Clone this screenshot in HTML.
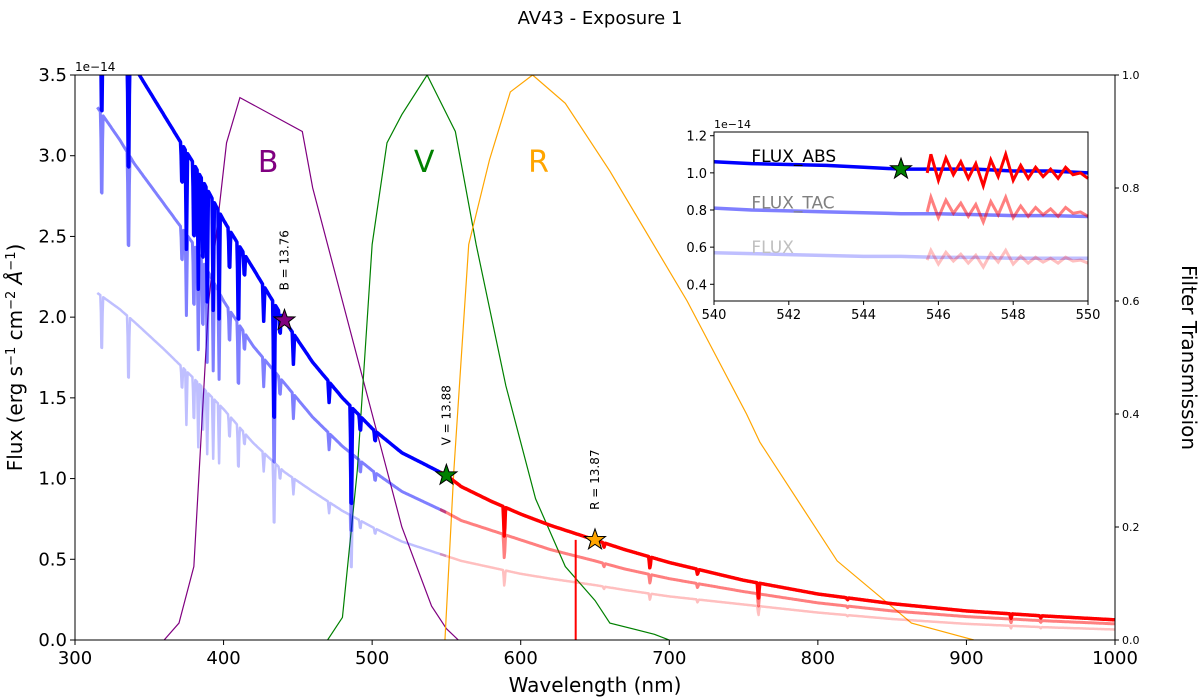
<!DOCTYPE html>
<html><head><meta charset="utf-8"><style>
body{margin:0;background:#fff;}
svg{display:block;font-family:"DejaVu Sans","Liberation Sans",sans-serif;}
</style></head><body>
<svg id="c" width="1200" height="698" xmlns="http://www.w3.org/2000/svg"></svg>
<script>
// ---- data ----
const contWl = [315,330,340,360,380,400,420,441,460,480,500,520,550,560,580,600,620,650,670,700,750,800,850,900,950,1000];
const fluxAbs = [3.9,3.7,3.55,3.25,2.95,2.6,2.3,1.98,1.72,1.5,1.31,1.16,1.02,0.95,0.86,0.78,0.71,0.62,0.56,0.48,0.37,0.285,0.225,0.18,0.15,0.125];
const fluxTac = [3.3,3.1,2.95,2.7,2.45,2.1,1.82,1.59,1.38,1.2,1.05,0.92,0.79,0.74,0.68,0.62,0.56,0.49,0.44,0.38,0.3,0.23,0.18,0.145,0.12,0.1];
const fluxRaw = [2.15,2.05,1.97,1.8,1.62,1.43,1.22,1.04,0.92,0.8,0.7,0.61,0.52,0.49,0.45,0.41,0.38,0.34,0.31,0.27,0.22,0.17,0.13,0.1,0.08,0.065];
const lineWl = [318,336,372,375,380,383,386,389,393,397,404,410,414,427,434,438,447,471,486,492,502,589,656,687,719,760,820,930,950];
const lineDepth = [0.2,0.25,0.1,0.2,0.2,0.25,0.22,0.25,0.25,0.25,0.12,0.25,0.07,0.1,0.45,0.08,0.1,0.08,0.55,0.08,0.06,0.25,0.05,0.15,0.08,0.3,0.05,0.2,0.1];
const bWl=[360,370,380,390,402,411,453,460,480,500,520,540,550,558];
const bT=[0,0.03,0.13,0.6,0.88,0.96,0.9,0.8,0.6,0.4,0.2,0.06,0.02,0];
const vWl=[470,480,490,500,510,520,537,556,570,590,610,630,650,660,690,700];
const vT=[0,0.04,0.3,0.7,0.88,0.93,1.0,0.9,0.7,0.45,0.25,0.13,0.07,0.03,0.01,0];
const rWl=[549,555,565,579,593,608,630,660,712,740,752,761,813,863,905];
const rT=[0,0.3,0.7,0.85,0.97,1.0,0.95,0.83,0.6,0.46,0.4,0.35,0.14,0.03,0];
const xTicks=[300,400,500,600,700,800,900,1000];
const yTicks=[0,0.5,1.0,1.5,2.0,2.5,3.0,3.5];
const y2Ticks=[0,0.2,0.4,0.6,0.8,1.0];
const stars=[{n:"B",wl:441,f:1.98,c:"#800080",lab:"B = 13.76"},{n:"V",wl:550,f:1.02,c:"#008000",lab:"V = 13.88"},{n:"R",wl:650,f:0.62,c:"#FFA500",lab:"R = 13.87"}];
// inset
const inWl=[540,541,542,543,544,545,546,547,548,549,550];
const inAbs=[1.06,1.05,1.045,1.04,1.03,1.02,1.02,1.02,1.01,1.01,1.0];
const inTac=[0.81,0.8,0.795,0.79,0.785,0.78,0.78,0.775,0.77,0.77,0.765];
const inRaw=[0.57,0.565,0.56,0.555,0.55,0.55,0.545,0.545,0.54,0.54,0.54];
const inRedWl=[545.7,545.8,546.0,546.2,546.4,546.6,546.8,547.0,547.2,547.4,547.6,547.8,548.0,548.2,548.4,548.6,548.8,549.0,549.2,549.4,549.6,549.8,550];
const inRed=[1.0,1.1,0.96,1.08,0.99,1.06,0.97,1.05,0.93,1.07,0.98,1.1,0.96,1.04,0.97,1.03,0.98,1.02,0.97,1.03,0.99,1.0,0.97];
const inTicksX=[540,542,544,546,548,550];
const inTicksY=[0.4,0.6,0.8,1.0,1.2];

// ---- helpers ----
const svg=document.getElementById('c');const NS="http://www.w3.org/2000/svg";
function mk(t,a,p){const e=document.createElementNS(NS,t);for(const k in a)e.setAttribute(k,a[k]);(p||svg).appendChild(e);return e;}
const X0=75,X1=1115,Y0=640,Y1=75;
const sx=w=>X0+(w-300)/700*(X1-X0);
const sy=f=>Y0-f/3.5*(Y0-Y1);
const sy2=t=>Y0-t*(Y0-Y1);
function interp(ws,vs,w){for(let i=0;i<ws.length-1;i++){if(w<=ws[i+1]){const t=(w-ws[i])/(ws[i+1]-ws[i]);return vs[i]+t*(vs[i+1]-vs[i]);}}return vs[vs.length-1];}
function specVal(vs,w){let v=interp(contWl,vs,Math.max(315,w));for(let i=0;i<lineWl.length;i++){const d=Math.abs(w-lineWl[i]);if(d<0.8)v*=1-lineDepth[i]*(1-d/0.8);}return v;}
function specPath(vs,a,b){let d="";for(let w=a;w<=b;w+=0.4){const v=Math.min(specVal(vs,w),3.8);d+=(d?"L":"M")+sx(w).toFixed(1)+","+Math.max(sy(v),60).toFixed(1);}return d;}
const clip=mk('clipPath',{id:'pc'});mk('rect',{x:X0,y:Y1,width:X1-X0,height:Y0-Y1},clip);
const g=mk('g',{'clip-path':'url(#pc)'});

[[bWl,bT,"#800080","b-filter-curve"],[vWl,vT,"#008000","v-filter-curve"],[rWl,rT,"#FFA500","r-filter-curve"]].forEach(([ws,ts,c,n])=>{
 const d=ws.map((w,i)=>(i?"L":"M")+sx(w)+","+sy2(ts[i])).join("");
 const p=mk('path',{d:d,fill:'none',stroke:c,'stroke-width':1.2},g);
 
});
[[fluxRaw,0.25,2.5,"flux"],[fluxTac,0.5,3,"flux-tac"],[fluxAbs,1,3.5,"flux-abs"]].forEach(([vs,op,sw,n])=>{
 const pb=mk('path',{d:specPath(vs,315,550),fill:'none',stroke:'#0000ff','stroke-opacity':op,'stroke-width':sw,'stroke-linejoin':'round'},g);
 
 const pr=mk('path',{d:specPath(vs,545.7,1000),fill:'none',stroke:'#ff0000','stroke-opacity':op,'stroke-width':sw,'stroke-linejoin':'round'},g);
 
});
const gap=mk('line',{x1:sx(637),x2:sx(637),y1:sy(0.62),y2:Y0,stroke:'#ff0000','stroke-width':2},g);

[["B",430,0.85,"#800080"],["V",535,0.85,"#008000"],["R",612,0.85,"#FFA500"]].forEach(([t,w,v,c])=>{
 const e=mk('text',{x:sx(w),y:sy2(v)+12,fill:c,'font-size':30,'text-anchor':'middle'});e.textContent=t;
 
});
function starPts(cx,cy,R){let s="";for(let i=0;i<10;i++){const r=i%2?R*0.4:R;const a=-Math.PI/2+i*Math.PI/5;s+=(cx+r*Math.cos(a)).toFixed(1)+","+(cy+r*Math.sin(a)).toFixed(1)+" ";}return s;}
stars.forEach(s=>{
 const cx=sx(s.wl),cy=sy(s.f);
 const p=mk('polygon',{points:starPts(cx,cy,11),fill:s.c,stroke:'#000','stroke-width':1});
 
 const t=mk('text',{x:0,y:0,'font-size':12,transform:`translate(${cx+4},${cy-30}) rotate(-90)`});t.textContent=s.lab;
 
});
const fr=mk('rect',{x:X0,y:Y1,width:X1-X0,height:Y0-Y1,fill:'none',stroke:'#000','stroke-width':1});

xTicks.forEach(v=>{mk('line',{x1:sx(v),x2:sx(v),y1:Y0,y2:Y0+5,stroke:'#000'});
 const t=mk('text',{x:sx(v),y:Y0+24,'font-size':18,'text-anchor':'middle'});t.textContent=v;
 });
yTicks.forEach(v=>{mk('line',{x1:X0-5,x2:X0,y1:sy(v),y2:sy(v),stroke:'#000'});
 const t=mk('text',{x:X0-8,y:sy(v)+6,'font-size':18,'text-anchor':'end'});t.textContent=v.toFixed(1);
 });
y2Ticks.forEach(v=>{mk('line',{x1:X1,x2:X1+4,y1:sy2(v),y2:sy2(v),stroke:'#000'});
 const t=mk('text',{x:X1+7,y:sy2(v)+4,'font-size':11});t.textContent=v.toFixed(1);
 });
let t=mk('text',{x:X0,y:Y1-4,'font-size':12});t.textContent="1e\u221214";
t=mk('text',{x:600,y:24,'font-size':18,'text-anchor':'middle'});t.textContent="AV43 - Exposure 1";
t=mk('text',{x:(X0+X1)/2,y:692,'font-size':20,'text-anchor':'middle'});t.textContent="Wavelength (nm)";
t=mk('text',{x:0,y:0,'font-size':20,'text-anchor':'middle',transform:`translate(22,${(Y0+Y1)/2}) rotate(-90)`});
t.innerHTML='Flux (erg s<tspan dy="-7" font-size="13">\u22121</tspan><tspan dy="7"> cm</tspan><tspan dy="-7" font-size="13">\u22122</tspan><tspan dy="7" font-style="italic"> Å</tspan><tspan dy="-7" font-size="13">\u22121</tspan><tspan dy="7">)</tspan>';

t=mk('text',{x:0,y:0,'font-size':20,'text-anchor':'middle',transform:`translate(1182,${(Y0+Y1)/2}) rotate(90)`});t.textContent="Filter Transmission";

// inset
const IX0=714,IX1=1088,IY0=301,IY1=132;
const ix=w=>IX0+(w-540)/10*(IX1-IX0);
const iy=f=>IY0-(f-0.31)/(1.22-0.31)*(IY0-IY1);
const ig=mk('g',{});
mk('rect',{x:IX0,y:IY1,width:IX1-IX0,height:IY0-IY1,fill:'#fff'},ig);
const pth=(ws,vs)=>ws.map((w,i)=>(i?"L":"M")+ix(w).toFixed(1)+","+iy(vs[i]).toFixed(1)).join("");
[[inRaw,0.25,"inset-flux"],[inTac,0.5,"inset-flux-tac"],[inAbs,1,"inset-flux-abs"]].forEach(([vs,op,n],k)=>{
 const p=mk('path',{d:pth(inWl,vs),fill:'none',stroke:'#0000ff','stroke-opacity':op,'stroke-width':3.5},ig);
 
 const sc=[0.53,0.79,1][k];const rv=inRed.map(v=>v*sc);
 const r=mk('path',{d:pth(inRedWl,rv),fill:'none',stroke:'#ff0000','stroke-opacity':op,'stroke-width':3},ig);
 
});
const is=mk('polygon',{points:starPts(ix(545),iy(1.02),11),fill:'#008000',stroke:'#000','stroke-width':1},ig);

[["FLUX_ABS",1.07,"#000"],["FLUX_TAC",0.82,"#808080"],["FLUX",0.58,"#c0c0c0"]].forEach(([s,v,c])=>{
 const e=mk('text',{x:ix(541),y:iy(v)+2,'font-size':17,fill:c},ig);e.textContent=s;
 
});
mk('rect',{x:IX0,y:IY1,width:IX1-IX0,height:IY0-IY1,fill:'none',stroke:'#000'},ig);
inTicksX.forEach(v=>{mk('line',{x1:ix(v),x2:ix(v),y1:IY0,y2:IY0+4,stroke:'#000'},ig);
 const e=mk('text',{x:ix(v),y:IY0+18,'font-size':13,'text-anchor':'middle'},ig);e.textContent=v;
 });
inTicksY.forEach(v=>{mk('line',{x1:IX0-4,x2:IX0,y1:iy(v),y2:iy(v),stroke:'#000'},ig);
 const e=mk('text',{x:IX0-7,y:iy(v)+5,'font-size':13,'text-anchor':'end'},ig);e.textContent=v.toFixed(1);
 });
t=mk('text',{x:IX0,y:IY1-4,'font-size':11},ig);t.textContent="1e\u221214";
</script>
</body></html>
